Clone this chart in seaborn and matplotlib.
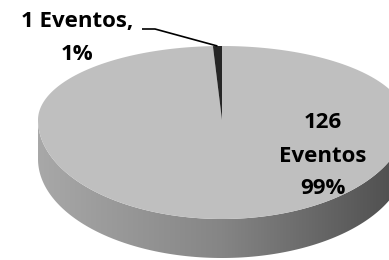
import numpy as np
import matplotlib
matplotlib.use("Agg")
import matplotlib.pyplot as plt
from matplotlib.patches import Polygon
import seaborn as sns

# data
categories = ["126 Eventos", "1 Eventos"]
values = [126, 1]
label_texts = ["126\nEventos\n99%", "1 Eventos,\n1%"]

sns.set_theme(style="white")
plt.rcParams["font.family"] = ["Open Sans", "DejaVu Sans"]
top_colors = sns.color_palette(["#bfbfbf", "#262626"])

# pie geometry (pixel space)
cx, cy = 222, 120
rx, ry_back, ry_front = 184, 74, 99
depth = 39


def rim(theta_deg):
    t = np.radians(theta_deg)
    s = np.sin(t)
    ry = np.where(s > 0, ry_back, ry_front)
    return cx + rx * np.cos(t), cy - ry * s


fig = plt.figure(figsize=(3.89, 2.60), dpi=100)
ax = fig.add_axes([0, 0, 1, 1])
ax.axis("off")

# front side wall with horizontal gradient
th = np.linspace(180, 360, 200)
xs, ys = rim(th)
side = np.concatenate([np.column_stack([xs, ys]),
                       np.column_stack([xs[::-1], ys[::-1] + depth])])
side_patch = Polygon(side, closed=True, facecolor="none", edgecolor="none")
ax.add_patch(side_patch)
grad = np.linspace(0, 1, 256).reshape(1, -1)
cmap = matplotlib.colors.LinearSegmentedColormap.from_list(
    "side", ["#a8a8a8", "#858585", "#4c4c4c"])
im = ax.imshow(grad, cmap=cmap, aspect="auto",
               extent=(cx - rx, cx + rx, cy + ry_front + depth + 2, cy - 5),
               zorder=1)
im.set_clip_path(side_patch)
ax.set_xlim(0, 389)
ax.set_ylim(260, 0)

# top faces, clockwise from 12 o'clock
total = sum(values)
cum = np.concatenate([[0], np.cumsum(values)]) / total
for i, v in enumerate(values):
    a0 = 90 - 360 * cum[i]
    a1 = 90 - 360 * cum[i + 1]
    th = np.linspace(a0, a1, max(int(abs(a1 - a0)), 4))
    xs, ys = rim(th)
    pts = np.vstack([[cx, cy], np.column_stack([xs, ys])])
    ax.add_patch(Polygon(pts, closed=True, facecolor=top_colors[i],
                         edgecolor="none", zorder=2))

lab_kw = dict(fontsize=16, fontweight="bold", color="black",
              ha="center", va="center", linespacing=1.75, zorder=4)
ax.text(323, 156, label_texts[0], **lab_kw)
ax.text(77, 38, label_texts[1], **lab_kw)

# leader line for the small slice
a_mid = 90 - 360 * (cum[1] + cum[2]) / 2
lx, ly = rim(a_mid)
ax.plot([142, 155, float(lx)], [29, 29, float(ly)], color="black", lw=1.2,
        zorder=3, solid_capstyle="butt")

fig.savefig("out.png", dpi=100)
